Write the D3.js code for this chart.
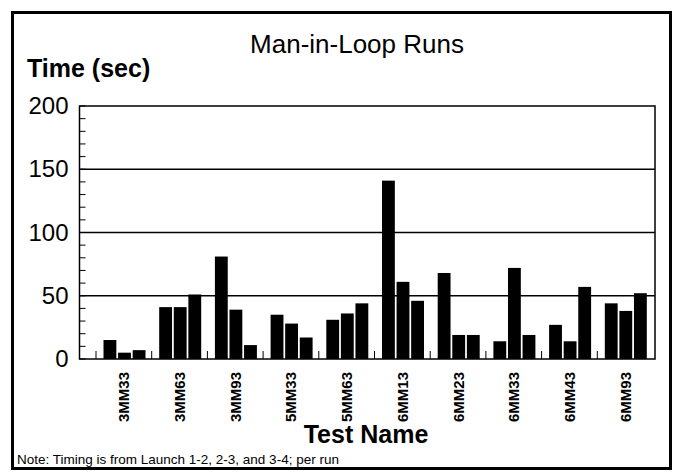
<!DOCTYPE html>
<html>
<head>
<meta charset="utf-8">
<script src="https://cdn.jsdelivr.net/npm/d3@7"></script>
<style>
  html, body { margin: 0; padding: 0; background: #fff; }
  svg { display: block; font-family: "Liberation Sans", Arial, sans-serif; }
</style>
</head>
<body>
<svg id="chart" width="674" height="472"></svg>
<script>
// Test runs and their three launch-to-launch timings (seconds)
const tests = ["3MM33", "3MM63", "3MM93", "5MM33", "5MM63", "6MM13", "6MM23", "6MM33", "6MM43", "6MM93"];
const launch12 = [15, 41, 81, 35, 31, 141, 68, 14, 27, 44];
const launch23 = [5, 41, 39, 28, 36, 61, 19, 72, 14, 38];
const launch34 = [7, 51, 11, 17, 44, 46, 19, 19, 57, 52];
const yTicks = [0, 50, 100, 150, 200];
const yMinor = d3.range(0, 201, 10);

const series = [launch12, launch23, launch34];
const rows = tests.map((t, i) => ({ test: t, values: series.map(s => s[i]) }));

const svg = d3.select("#chart");

// outer border
svg.append("rect")
  .attr("x", 12.5).attr("y", 12.5)
  .attr("width", 658).attr("height", 456)
  .attr("fill", "none").attr("stroke", "#000").attr("stroke-width", 3);

const plot = { left: 79.5, right: 655, top: 106, bottom: 359 };

const y = d3.scaleLinear().domain([0, 200]).range([plot.bottom, plot.top]);
const x = d3.scaleBand().domain(tests).range([96, 653]).paddingInner(0).paddingOuter(0);
const xs = d3.scaleBand().domain([0, 1, 2]).range([7.5, 49.5]).paddingInner(0.12);

// title and axis titles
svg.append("text")
  .attr("x", 357).attr("y", 53)
  .attr("text-anchor", "middle")
  .attr("font-size", 26)
  .text("Man-in-Loop Runs");

svg.append("text")
  .attr("x", 27).attr("y", 77)
  .attr("font-size", 25).attr("font-weight", "bold")
  .text("Time (sec)");

svg.append("text")
  .attr("x", 366).attr("y", 443)
  .attr("text-anchor", "middle")
  .attr("font-size", 25).attr("font-weight", "bold")
  .text("Test Name");

svg.append("text")
  .attr("x", 17).attr("y", 464)
  .attr("font-size", 13.5)
  .text("Note: Timing is from Launch 1-2, 2-3, and 3-4; per run");

// gridlines
svg.append("g")
  .selectAll("line")
  .data(yTicks.filter(d => d > 0 && d < 200))
  .join("line")
  .attr("x1", plot.left).attr("x2", plot.right)
  .attr("y1", d => y(d)).attr("y2", d => y(d))
  .attr("stroke", "#000").attr("stroke-width", 1.5);

// bars
const groups = svg.append("g")
  .selectAll("g")
  .data(rows)
  .join("g")
  .attr("transform", d => `translate(${x(d.test)},0)`);

groups.selectAll("rect")
  .data(d => d.values.map((v, k) => ({ k, v })))
  .join("rect")
  .attr("x", d => xs(d.k))
  .attr("width", xs.bandwidth())
  .attr("y", d => y(d.v))
  .attr("height", d => y(0) - y(d.v))
  .attr("fill", "#000");

// plot frame
svg.append("rect")
  .attr("x", plot.left).attr("y", plot.top)
  .attr("width", plot.right - plot.left).attr("height", plot.bottom - plot.top)
  .attr("fill", "none").attr("stroke", "#000").attr("stroke-width", 1.5);

// left axis: labels and inward minor ticks
const yAxis = d3.axisLeft(y).tickValues(yTicks).tickSize(0).tickPadding(11);
const yg = svg.append("g")
  .attr("transform", `translate(${plot.left},0)`)
  .call(yAxis);
yg.select(".domain").remove();
yg.selectAll("text")
  .attr("font-size", 24)
  .attr("font-family", "Liberation Sans, Arial, sans-serif")
  .attr("fill", "#000");

svg.append("g")
  .selectAll("line")
  .data(yMinor)
  .join("line")
  .attr("x1", plot.left).attr("x2", plot.left + 6)
  .attr("y1", d => y(d)).attr("y2", d => y(d))
  .attr("stroke", "#000").attr("stroke-width", 1);

// bottom axis: category ticks at band starts, rotated labels
svg.append("g")
  .selectAll("line")
  .data(tests)
  .join("line")
  .attr("x1", d => x(d)).attr("x2", d => x(d))
  .attr("y1", plot.bottom).attr("y2", plot.bottom - 8)
  .attr("stroke", "#000").attr("stroke-width", 1);

svg.append("g")
  .selectAll("text")
  .data(tests)
  .join("text")
  .attr("transform", d => `translate(${x(d) + x.bandwidth() / 2 + 5.5},372) rotate(-90)`)
  .attr("text-anchor", "end")
  .attr("font-size", 15)
  .attr("font-weight", "bold")
  .text(d => d);
</script>
</body>
</html>
